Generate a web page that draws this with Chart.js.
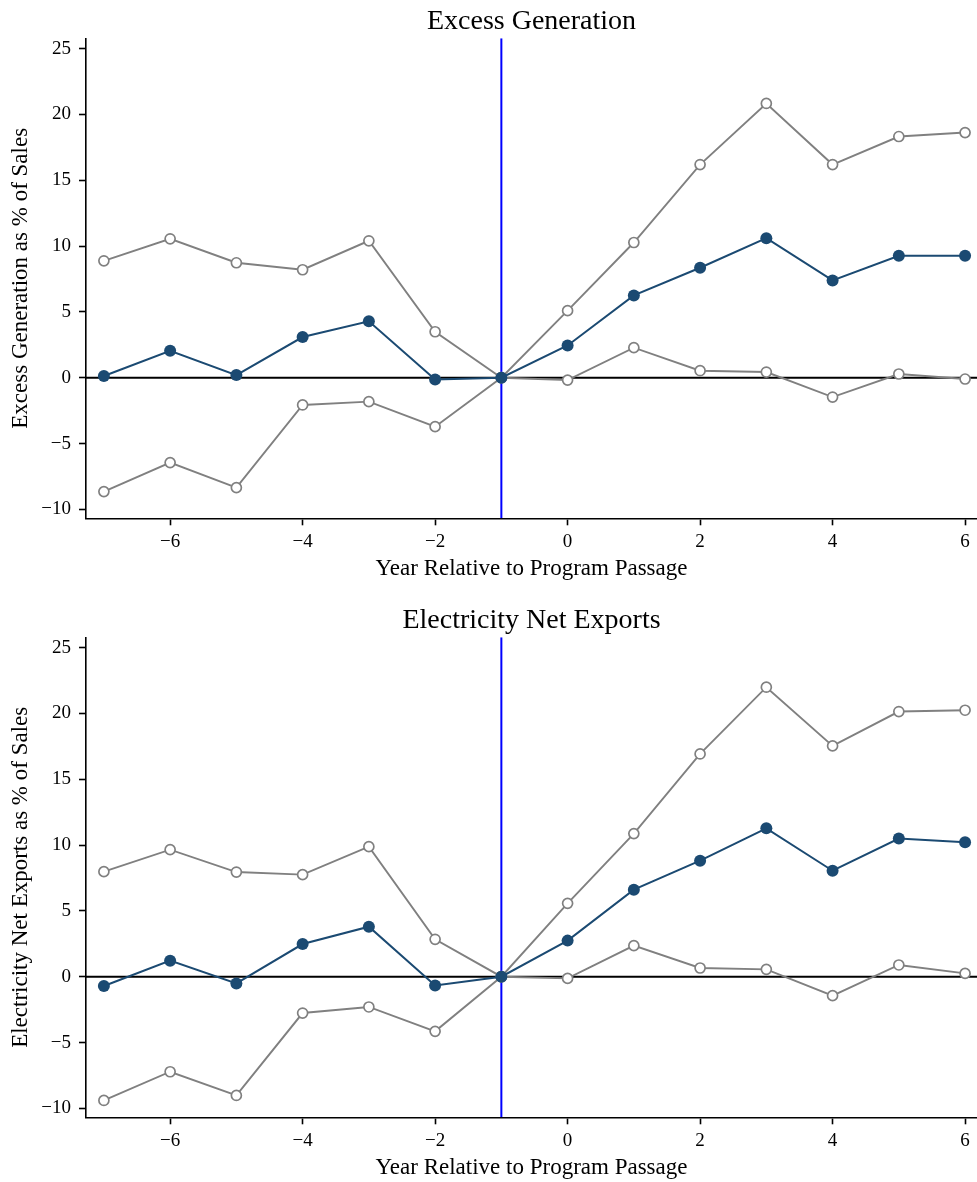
<!DOCTYPE html>
<html>
<head>
<meta charset="utf-8">
<script src="https://cdn.jsdelivr.net/npm/chart.js@4.4.1/dist/chart.umd.min.js"></script>
<style>
  html, body { margin: 0; padding: 0; background: #ffffff; }
  body { width: 977px; height: 1182px; position: relative; overflow: hidden; }
  .panel { position: absolute; left: 0; width: 977px; height: 583px; }
  canvas { display: block; }
</style>
</head>
<body>
<div class="panel" style="top:0px"><canvas id="c1" width="977" height="583"></canvas></div>
<div class="panel" style="top:599px"><canvas id="c2" width="977" height="583"></canvas></div>
<script>
// ---- data ----
const years = [-7, -6, -5, -4, -3, -2, -1, 0, 1, 2, 3, 4, 5, 6];
const xTicks = [-6, -4, -2, 0, 2, 4, 6];
const yTicks = [-10, -5, 0, 5, 10, 15, 20, 25];
const passageYear = -1;

// Panel 1: Excess Generation
const genEstimate = [0.13, 2.05, 0.20, 3.09, 4.28, -0.13, 0, 2.45, 6.25, 8.35, 10.60, 7.39, 9.26, 9.26];
const genUpper    = [8.88, 10.55, 8.73, 8.20, 10.40, 3.49, 0, 5.09, 10.27, 16.19, 20.83, 16.19, 18.32, 18.62];
const genLower    = [-8.65, -6.45, -8.35, -2.07, -1.82, -3.72, 0, -0.18, 2.28, 0.53, 0.43, -1.47, 0.28, -0.10];

// Panel 2: Electricity Net Exports
const expEstimate = [-0.71, 1.22, -0.51, 2.48, 3.80, -0.66, 0, 2.74, 6.61, 8.81, 11.27, 8.05, 10.49, 10.21];
const expUpper    = [7.98, 9.65, 7.95, 7.75, 9.88, 2.84, 0, 5.57, 10.87, 16.92, 21.99, 17.53, 20.14, 20.24];
const expLower    = [-9.40, -7.22, -9.02, -2.76, -2.30, -4.15, 0, -0.13, 2.36, 0.66, 0.56, -1.44, 0.89, 0.25];

// axis limits
const X_MIN = -7.27, X_MAX = 6.18;
const Y_MIN = -10.68, Y_MAX = 25.78;

// ---- styling ----
const FONT = "'Liberation Serif', 'Times New Roman', serif";
const NAVY = '#1b4a72';
const GRAY = '#808080';
const fmt = v => (v < 0 ? '\u2212' + Math.abs(v) : String(v));
const pts = (arr) => years.map((x, i) => ({ x: x, y: arr[i] }));

function makeChart(id, title, yTitle, est, up, lo) {
  const ctx = document.getElementById(id).getContext('2d');
  return new Chart(ctx, {
    type: 'line',
    data: {
      datasets: [
        { data: pts(est), borderColor: NAVY, backgroundColor: NAVY, borderWidth: 2,
          pointRadius: 6, pointBorderWidth: 0, pointBackgroundColor: NAVY, order: 1 },
        { data: pts(up), borderColor: GRAY, borderWidth: 1.9, pointRadius: 5,
          pointBorderWidth: 1.7, pointBorderColor: GRAY, pointBackgroundColor: '#ffffff', order: 2 },
        { data: pts(lo), borderColor: GRAY, borderWidth: 1.9, pointRadius: 5,
          pointBorderWidth: 1.7, pointBorderColor: GRAY, pointBackgroundColor: '#ffffff', order: 3 },
        { data: [{ x: X_MIN, y: 0 }, { x: X_MAX, y: 0 }], borderColor: '#000000', borderWidth: 2,
          pointRadius: 0, order: 5 },
        { data: [{ x: passageYear, y: Y_MIN }, { x: passageYear, y: Y_MAX }], borderColor: '#0000ff', borderWidth: 2,
          pointRadius: 0, order: 4 }
      ]
    },
    options: {
      responsive: false,
      animation: false,
      devicePixelRatio: 1,
      layout: { padding: 0, autoPadding: false },
      plugins: {
        legend: { display: false },
        tooltip: { enabled: false },
        title: {
          display: true, text: title, color: '#000000', fullSize: false,
          font: { family: FONT, size: 28, weight: 'normal', lineHeight: 1.2 },
          padding: { top: 4.4, bottom: 0.3 }
        }
      },
      scales: {
        x: {
          type: 'linear', min: X_MIN, max: X_MAX,
          afterBuildTicks: s => { s.ticks = xTicks.map(v => ({ value: v })); },
          afterFit: s => { s.height = 64.7; s.paddingLeft = 0; s.paddingRight = 0; },
          ticks: { callback: v => fmt(v), color: '#000000', padding: 5, maxRotation: 0,
                   font: { family: FONT, size: 19, lineHeight: 1.2 } },
          grid: { display: true, drawOnChartArea: false, drawTicks: true, tickLength: 7,
                  tickColor: '#000000', tickWidth: 1.6 },
          border: { display: true, color: '#000000', width: 1.6 },
          title: { display: true, text: 'Year Relative to Program Passage', color: '#000000',
                   font: { family: FONT, size: 23, lineHeight: 1.2 }, padding: { top: 0, bottom: 0 } }
        },
        y: {
          type: 'linear', min: Y_MIN, max: Y_MAX,
          afterBuildTicks: s => { s.ticks = yTicks.map(v => ({ value: v })); },
          afterFit: s => { s.width = 86; s.paddingTop = 0; s.paddingBottom = 0; },
          ticks: { callback: v => fmt(v), color: '#000000', padding: 8,
                   font: { family: FONT, size: 19, lineHeight: 1.2 } },
          grid: { display: true, drawOnChartArea: false, drawTicks: true, tickLength: 7,
                  tickColor: '#000000', tickWidth: 1.6 },
          border: { display: true, color: '#000000', width: 1.6 },
          title: { display: true, text: yTitle, color: '#000000',
                   font: { family: FONT, size: 23, lineHeight: 1.2 }, padding: { top: 6.7, bottom: 0 } }
        }
      }
    }
  });
}

makeChart('c1', 'Excess Generation', 'Excess Generation as % of Sales', genEstimate, genUpper, genLower);
makeChart('c2', 'Electricity Net Exports', 'Electricity Net Exports as % of Sales', expEstimate, expUpper, expLower);
</script>
</body>
</html>
